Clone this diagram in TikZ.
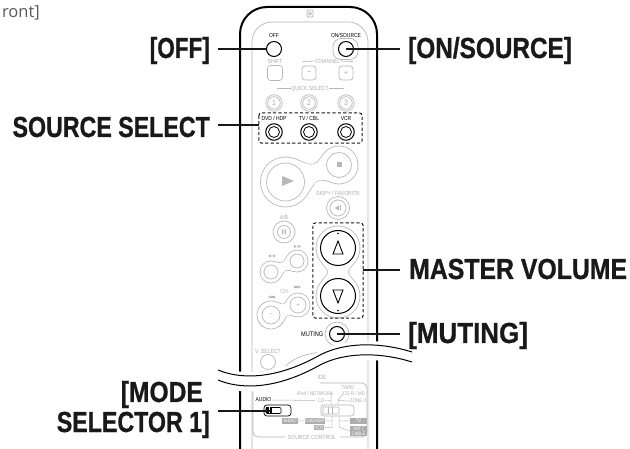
\documentclass[tikz,border=0pt]{standalone}
\usepackage{fontspec}
\setmainfont{Liberation Sans}
\newfontfamily\labfont[FakeStretch=0.80,FakeBold=0.7]{Liberation Sans Bold}
\newfontfamily\tinyfont[FakeStretch=0.85]{Liberation Sans}
\newfontfamily\frontfont{Open Sans}
\definecolor{rim}{gray}{0.72}
\definecolor{gtxt}{gray}{0.68}
\definecolor{dark}{gray}{0.10}
\newcommand{\blobpath}[7]{%
  \pgfmathsetmacro\bang{atan2(#5-#2,#4-#1)}%
  \pgfmathsetmacro\bdist{0.32*veclen(#5-#2,#4-#1)}%
  \pgfmathsetmacro\ra{#3+#7}%
  \pgfmathsetmacro\rb{#6+#7}%
  \pgfmathsetmacro\th{52}%
  \fill[#7 style] (#1,#2) circle[radius=\ra] (#4,#5) circle[radius=\rb];
  \fill[#7 style]
    ([shift={(\bang+\th:\ra)}]#1,#2)
      .. controls ([shift={(\bang+\th:\ra)},shift={(\bang+\th-90:\bdist)}]#1,#2)
      and ([shift={(\bang+180-\th:\rb)},shift={(\bang+270-\th:\bdist)}]#4,#5)
      .. ([shift={(\bang+180-\th:\rb)}]#4,#5)
    -- ([shift={(\bang+180+\th:\rb)}]#4,#5)
      .. controls ([shift={(\bang+180+\th:\rb)},shift={(\bang+90+\th:\bdist)}]#4,#5)
      and ([shift={(\bang-\th:\ra)},shift={(\bang-\th+90:\bdist)}]#1,#2)
      .. ([shift={(\bang-\th:\ra)}]#1,#2)
    -- cycle;
}
\newcommand{\blob}[6]{%
  \tikzset{0.4 style/.style={fill=rim},-0.4 style/.style={fill=white}}%
  \blobpath{#1}{#2}{#3}{#4}{#5}{#6}{0.4}%
  \blobpath{#1}{#2}{#3}{#4}{#5}{#6}{-0.4}%
}
\tikzset{
  lab/.style={font=\labfont\fontsize{29}{31}\selectfont,text=dark,inner sep=0pt},
  leader/.style={draw=dark,line width=1.7pt},
  hull/.style={draw=black,line width=2pt},
  rimline/.style={draw=rim,line width=0.7pt},
  gt/.style={font=\tinyfont\fontsize{6}{6.5}\selectfont,text=gtxt,inner sep=0pt},
  bt/.style={font=\tinyfont\fontsize{5.8}{6}\selectfont,text=black,inner sep=0pt},
  gbtn/.style={circle,draw=rim,line width=0.7pt,inner sep=0pt,fill=white},
  kbtn/.style={circle,draw=black,line width=1pt,inner sep=0pt,fill=white},
  gsq/.style={rectangle,rounded corners=3pt,draw=rim,line width=0.7pt,fill=white,inner sep=0pt},
  dbox/.style={draw=dark,line width=1pt,dash pattern=on 3.2pt off 2.2pt,rounded corners=3pt},
  chip/.style={font=\tinyfont\fontsize{5}{5.2}\selectfont,text=white,fill=gtxt,inner sep=0.8pt,align=center},
}
\begin{document}
\begin{tikzpicture}[x=1pt,y=-1pt]
\useasboundingbox (0,0) rectangle (630,449);
\fill[white] (0,0) rectangle (630,449);
% corner caption
\node[anchor=base east,inner sep=0pt,font=\frontfont\fontsize{16.5}{18}\selectfont,text=black!65] (front) at (40,18) {ront]};
% hull
\draw[hull,rounded corners=27pt] (240,449) -- (240,7) -- (377,7) -- (377,449);
\draw[rimline,rounded corners=20pt] (252,449) -- (252,22) -- (368,22) -- (368,449);
\draw[rim,line width=0.8pt,rounded corners=1pt] (307,10) rectangle (313,17);
\draw[rim,line width=0.6pt] (310,13.5) circle[radius=1.6];
% top row
\draw[rimline,fill=white,rounded corners=8pt] (333,38.5) rectangle (358,59.5);
\node[kbtn,minimum size=15pt] (off) at (274,49) {};
\node[kbtn,minimum size=15pt] (onsrc) at (346,49) {};
\node[bt] (toff) at (274,35.5) {OFF};
\node[bt] (ton) at (346,35.5) {ON/SOURCE};
% shift / channel
\node[gt] (tshift) at (275,61) {SHIFT};
\node[gt] (tchan) at (328,61) {CHANNEL};
\draw[rimline] (303,61.5) -- (tchan.west) (tchan.east) -- (353,61.5);
\node[gsq,minimum size=15pt] (bshift) at (275,73) {};
\node[gsq,minimum size=14pt,text=gtxt,font=\tinyfont\fontsize{8}{8}\selectfont] (bminus) at (309,73) {−};
\node[gsq,minimum size=14pt,text=gtxt,font=\tinyfont\fontsize{8}{8}\selectfont] (bplus) at (346,73) {+};
% quick select
\node[gt] (tquick) at (310,88.5) {QUICK SELECT};
\draw[rimline] (277,88.5) -- (tquick.west) (tquick.east) -- (344,88.5);
\foreach \n/\x in {1/274,2/309,3/346}{
  \node[gbtn,minimum size=16.5pt] (q\n o) at (\x,103) {};
  \node[gbtn,minimum size=12.5pt,text=gtxt,font=\tinyfont\fontsize{8}{8}\selectfont] (q\n) at (\x,103) {\n};
}
% source select
\node[bt] (tdvd) at (274,118.5) {DVD / HDP};
\node[bt] (ttv) at (309,118.5) {TV / CBL};
\node[bt] (tvcr) at (346,118.5) {VCR};
\foreach \n/\x in {a/274,b/309,c/346}{
  \node[kbtn,minimum size=16.5pt] (s\n o) at (\x,132) {};
  \node[kbtn,line width=0.8pt,minimum size=11pt] (s\n) at (\x,132) {};
}
\node[draw=none,minimum width=103pt,minimum height=30pt,inner sep=0pt] (srcbox) at (310.5,128) {};
\draw[dbox] (srcbox.north west) rectangle (srcbox.south east);
% play/stop
\blob{285.5}{182}{25}{339}{165}{19}
\node[gbtn,minimum size=38pt] (play) at (285.5,182) {};
\node[gbtn,minimum size=25pt] (stopb) at (339,165) {};
\fill[rim] (282,176) -- (294,181) -- (282,186) -- cycle;
\fill[rim] (336.5,162.5) rectangle (341.5,167.5);
% skip
\node[gt] (tskip) at (338,193) {SKIP+ / FAVORITE};
\node[gbtn,minimum size=23pt] (skipo) at (338,208) {};
\node[gbtn,minimum size=16pt] (skip) at (338,208) {};
\fill[rim] (335,208) -- (339,205.5) -- (339,210.5) -- cycle;
\fill[rim] (339.6,205.5) rectangle (340.8,210.5);
\node[gt] (tab) at (284,217) {A/B};
\node[gbtn,minimum size=22pt] (abo) at (284,232) {};
\node[gbtn,minimum size=13pt] (ab) at (284,232) {};
\fill[rim] (282,229.5) rectangle (283.4,234.5) (284.6,229.5) rectangle (286,234.5);
% rew / ff
\blob{271}{272}{11}{297}{261}{11}
\node[gbtn,minimum size=14pt] (rew) at (271,272) {};
\node[gbtn,minimum size=14pt] (ff) at (297,261) {};
\fill[rim] (268,256) -- (271,254.5) -- (271,257.5) -- cycle (272,256) -- (275,254.5) -- (275,257.5) -- cycle;
\fill[rim] (297,246.5) -- (294,245) -- (294,248) -- cycle (301,246.5) -- (298,245) -- (298,248) -- cycle;
% ch
\node[gt] (tch) at (284,291) {CH};
\fill[rim] (268,297) -- (270.5,295.5) -- (270.5,298.5) -- cycle (271,295.8) rectangle (275,298.2);
\fill[rim] (301,287) -- (298.5,285.5) -- (298.5,288.5) -- cycle (294,285.8) rectangle (298,288.2);
\blob{271}{315}{14}{298}{305}{12}
\node[gbtn,minimum size=18pt,text=gtxt,font=\tinyfont\fontsize{7}{7}\selectfont] (chd) at (271,315) {−};
\node[gbtn,minimum size=16pt,text=gtxt,font=\tinyfont\fontsize{7}{7}\selectfont] (chu) at (298,305) {+};
% muting + volume
\node[gbtn,minimum size=24pt] (mutring) at (337,334) {};
\blob{338}{248}{22}{338}{296}{22}
\node[kbtn,minimum size=35pt] (volup) at (338,248) {};
\node[kbtn,minimum size=35pt] (voldn) at (338,296) {};
\draw[black,line width=0.9pt] (338,241) -- (333,254) -- (343,254) -- cycle;
\draw[black,line width=0.9pt] (338,303) -- (333,290) -- (343,290) -- cycle;
\fill[black] (338,233.5) circle[radius=0.9] (338,310.5) circle[radius=0.9];
\node[draw=none,minimum width=50pt,minimum height=95pt,inner sep=0pt] (volbox) at (338,270.5) {};
\draw[dbox] (volbox.north west) rectangle (volbox.south east);
\node[kbtn,minimum size=15pt] (mute) at (337,334) {};
\node[bt,anchor=east,font=\tinyfont\fontsize{6.6}{7}\selectfont] (tmute) at (323.5,334.5) {MUTING};
% v.select
\node[gt] (tvs) at (268,351) {V. SELECT};
\node[gbtn,minimum size=15pt] (vs) at (268,362) {};
\node[gt] (tsetup) at (268,373.5) {SETUP};
\draw[rimline] (278,378) .. controls (284,362) and (300,354) .. (322,352);
\draw[rimline] (285,378) .. controls (290,368) and (304,360) .. (322,358);
\node[gt] (tide) at (322,377.5) {IDE};
% bottom panel
\draw[rimline,rounded corners=5pt] (253,375) -- (253,437) -- (285,437) (340,437) -- (367,437) -- (367,383) -- (320,383);
\node[gt] (tsc) at (312,437) {SOURCE CONTROL};
\node[bt] (taud) at (263.5,400) {AUDIO};
\node[gt,font=\tinyfont\fontsize{5.3}{5.6}\selectfont] (tipod) at (315,394) {iPod / NETWORK};
\node[gt,font=\tinyfont\fontsize{5.3}{5.6}\selectfont] (tcd) at (321,401) {CD};
\node[gt,font=\tinyfont\fontsize{5.3}{5.6}\selectfont] (ttape) at (348,388) {TAPE/};
\node[gt,font=\tinyfont\fontsize{5.3}{5.6}\selectfont] (tmd) at (354,394) {CD-R / MD};
\node[gt,font=\tinyfont\fontsize{5.3}{5.6}\selectfont] (tz2) at (358,401) {ZONE 2};
\draw[rim,line width=0.5pt] (taud.east) -- (315,400.5) (tcd.east) -- (331,400.5) (331,405) -- (331,394) -- (tipod.east)
  (338,405) -- (338,400.5) -- (tz2.west) (338,400.5)--(tmd.west);
% switches
\draw[rimline,rounded corners=3pt] (321,405) rectangle (354,416);
\draw[rimline,rounded corners=1pt] (323,407) rectangle (339,414);
\draw[rimline] (328,407) -- (328,414) (332,407) -- (332,414);
\node[draw=black,line width=0.7pt,rounded corners=3pt,minimum width=27pt,minimum height=11pt,inner sep=0pt] (sw) at (277.5,410.5) {};
\draw[black,line width=0.6pt,rounded corners=1pt] (266,407.5) rectangle (281,413.5);
\fill[black] (266,407.5) rectangle (272,413.5);
\draw[white,line width=0.6pt] (269,407.5) -- (269,413.5);
% chips
\node[chip] (c1) at (290,421) {AUDIO};
\node[chip] (c2) at (315,421) {DVD/HDP};
\node[chip] (c3) at (319,427.5) {VCR};
\node[chip,minimum width=17pt] (c4) at (358.5,421) {TV};
\node[chip,minimum width=17pt] (c5) at (358.5,431) {SAT /\\[-0.5pt]CABLE};
\draw[rim,line width=0.5pt] (c1.east) -- (c2.west) (c2.east) -- (332,421) (c3.east) -- (332,427.5) -- (332,416)
  (339,416) -- (339,421) -- (c4.west) (339,421) -- (339,427) -- (c5.west);
% break: white halo, then the two wave lines
\fill[white] (215,365) .. controls (235,374) and (270,379) .. (320,351) .. controls (345,338) and (380,338) .. (415,349)
  -- (415,368) .. controls (380,357) and (345,357) .. (320,370) .. controls (270,398) and (235,394) .. (215,384) -- cycle;
\draw[black,line width=1pt] (218,370) .. controls (237,378) and (272,382) .. (320,355) .. controls (345,342) and (380,342) .. (412,352);
\draw[black,line width=1pt] (218,380) .. controls (237,388) and (272,392) .. (320,365) .. controls (345,352) and (380,352) .. (412,362);
% labels
\node[lab,anchor=base east] (lboff) at (210,58) {\scalebox{0.97}[1]{[OFF]}};
\coordinate (lboffe) at (218,49);
\draw[leader] (lboffe) -- (off);
\node[lab,anchor=base west] (lbon) at (408,58) {\scalebox{1.05}[1]{[ON/SOURCE]}};
\coordinate (lbone) at (400,49);
\draw[leader] (lbone) -- (onsrc.center);
\node[lab,anchor=base east] (lbsrc) at (210,137) {SOURCE SELECT};
\coordinate (lbsrce) at (218,125);
\draw[leader] (lbsrce) -- (lbsrce -| srcbox.west);
\node[lab,anchor=base west] (lbvol) at (409,279) {\scalebox{1.07}[1]{MASTER VOLUME}};
\coordinate (lbvole) at (400,270);
\draw[leader] (lbvole) -- (lbvole -| volbox.east);
\node[lab,anchor=base west] (lbmut) at (408,343) {\scalebox{1.12}[1]{[MUTING]}};
\coordinate (lbmute) at (400,334);
\draw[leader] (lbmute) -- (mute.center);
\node[lab,anchor=base east] (lbm1) at (203,402) {\scalebox{1.06}[1]{[MODE}};
\node[lab,anchor=base east] (lbm2) at (210,432) {SELECTOR 1]};
\coordinate (lbm2e) at (218,411);
\draw[leader] (lbm2e) -- (270,411);
\end{tikzpicture}
\end{document}
